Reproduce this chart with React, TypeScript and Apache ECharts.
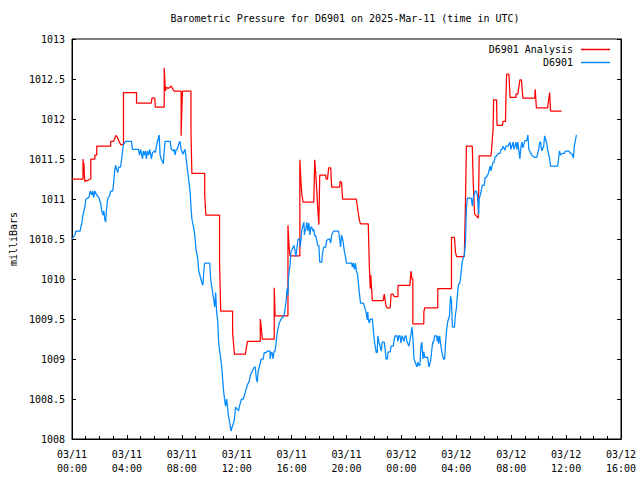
import React, { useEffect, useRef } from "react";
import * as echarts from "echarts";

// Time in minutes since 2025-03-11 00:00 UTC, pressure in millibars
const analysisMin = [
  0, 48, 48, 50, 52, 54, 56, 82, 82, 100, 100, 108, 108, 169, 169, 182, 191, 195, 212, 225,
  225, 282, 282, 347, 349, 362, 364, 403, 403, 407, 409, 412, 420, 433, 440, 446, 472, 477, 477, 481,
  483, 520, 520, 524, 580, 580, 585, 645, 645, 650, 702, 702, 710, 758, 762, 767, 823, 823, 827, 832,
  884, 884, 888, 944, 944, 949, 953, 996, 996, 1001, 1005, 1010, 1057, 1061, 1066, 1070, 1074, 1079, 1083, 1109,
  1111, 1117, 1122, 1131, 1135, 1170, 1172, 1178, 1183, 1243, 1250, 1256, 1261, 1295, 1300, 1304, 1306, 1313, 1360, 1365,
  1369, 1373, 1378, 1391, 1395, 1404, 1408, 1425, 1425, 1477, 1482, 1486, 1490, 1490, 1538, 1538, 1542, 1599, 1599, 1659,
  1659, 1672, 1676, 1681, 1715, 1720, 1724, 1750, 1754, 1760, 1776, 1780, 1832, 1841, 1843, 1856, 1858, 1882, 1884, 1895,
  1897, 1900, 1910, 1915, 1941, 1941, 1949, 1958, 1965, 1967, 1971, 2023, 2025, 2030, 2079, 2088, 2092, 2140,
];
const analysisMb = [
  1011.25, 1011.25, 1011.5, 1011.4, 1011.45, 1011.3, 1011.22, 1011.25, 1011.5, 1011.5, 1011.55, 1011.55, 1011.66, 1011.66, 1011.72, 1011.72, 1011.79, 1011.79, 1011.68, 1011.68,
  1012.33, 1012.33, 1012.2, 1012.2, 1012.26, 1012.26, 1012.15, 1012.15, 1012.64, 1012.4, 1012.35, 1012.4, 1012.38, 1012.41, 1012.38, 1012.35, 1012.35, 1012.34, 1011.79, 1012.2,
  1012.35, 1012.35, 1011.84, 1011.32, 1011.32, 1011.06, 1010.8, 1010.8, 1010.2, 1009.6, 1009.6, 1009.33, 1009.06, 1009.06, 1009.14, 1009.22, 1009.22, 1009.5, 1009.4, 1009.25,
  1009.25, 1009.89, 1009.54, 1009.54, 1010.67, 1010.4, 1010.29, 1010.29, 1011.49, 1011.2, 1011.05, 1010.96, 1010.96, 1011.49, 1011.3, 1011.1, 1010.9, 1010.68, 1011.3, 1011.3,
  1011.25, 1011.25, 1011.39, 1011.39, 1011.15, 1011.15, 1011.22, 1011.21, 1011.0, 1011.0, 1010.85, 1010.74, 1010.69, 1010.69, 1010.15, 1009.88, 1010.05, 1009.73, 1009.73, 1009.81,
  1009.73, 1009.66, 1009.64, 1009.64, 1009.81, 1009.81, 1009.78, 1009.78, 1009.92, 1009.92, 1010.1, 1010.0, 1010.0, 1009.44, 1009.44, 1009.59, 1009.64, 1009.64, 1009.88, 1009.88,
  1010.52, 1010.52, 1010.34, 1010.28, 1010.28, 1010.96, 1011.66, 1011.66, 1011.2, 1010.81, 1010.76, 1011.54, 1011.54, 1011.88, 1012.24, 1012.24, 1011.92, 1011.92, 1011.97, 1011.97,
  1012.27, 1012.56, 1012.56, 1012.27, 1012.27, 1012.31, 1012.31, 1012.49, 1012.49, 1012.4, 1012.26, 1012.26, 1012.37, 1012.14, 1012.14, 1012.33, 1012.1, 1012.1,
];

const obsMin = [
  0, 13, 17, 35, 43, 48, 56, 61, 74, 80, 87, 91, 95, 100, 108, 117, 125, 130, 135, 139,
  143, 147, 150, 156, 165, 169, 178, 182, 187, 191, 195, 200, 204, 212, 217, 221, 225, 234, 260, 264,
  290, 295, 300, 308, 312, 316, 321, 325, 330, 335, 340, 347, 352, 360, 364, 372, 381, 385, 390, 399,
  403, 407, 429, 434, 442, 446, 451, 455, 460, 468, 472, 477, 485, 490, 494, 503, 511, 516, 520, 524,
  533, 537, 542, 550, 554, 567, 572, 576, 580, 602, 606, 619, 624, 628, 632, 637, 641, 654, 663, 671,
  676, 684, 689, 695, 700, 706, 710, 715, 728, 732, 741, 749, 758, 767, 775, 780, 788, 797, 801, 806,
  810, 814, 819, 827, 836, 840, 849, 853, 866, 866, 871, 875, 879, 884, 888, 892, 897, 905, 914, 927,
  931, 937, 940, 944, 946, 949, 953, 957, 970, 975, 979, 988, 996, 998, 1001, 1005, 1014, 1016, 1018, 1022,
  1027, 1031, 1035, 1040, 1044, 1048, 1053, 1057, 1061, 1066, 1074, 1079, 1083, 1092, 1094, 1100, 1109, 1113, 1122, 1126,
  1131, 1135, 1144, 1165, 1170, 1174, 1178, 1183, 1187, 1191, 1196, 1200, 1222, 1226, 1230, 1235, 1239, 1243, 1248, 1252,
  1256, 1261, 1274, 1278, 1282, 1287, 1291, 1293, 1295, 1300, 1304, 1313, 1317, 1321, 1326, 1330, 1334, 1337, 1339, 1343,
  1347, 1352, 1356, 1365, 1369, 1373, 1378, 1382, 1391, 1395, 1404, 1408, 1412, 1421, 1425, 1429, 1434, 1438, 1443, 1451,
  1456, 1460, 1464, 1473, 1482, 1486, 1490, 1495, 1508, 1512, 1516, 1521, 1525, 1529, 1532, 1534, 1538, 1542, 1555, 1558,
  1560, 1568, 1573, 1577, 1581, 1585, 1594, 1597, 1599, 1603, 1607, 1611, 1616, 1620, 1625, 1629, 1633, 1637, 1642, 1646,
  1650, 1655, 1659, 1663, 1672, 1676, 1681, 1685, 1690, 1694, 1698, 1702, 1707, 1711, 1715, 1720, 1724, 1728, 1746, 1750,
  1754, 1763, 1767, 1772, 1778, 1780, 1789, 1793, 1802, 1806, 1811, 1819, 1828, 1832, 1836, 1841, 1845, 1850, 1854, 1863,
  1871, 1876, 1880, 1884, 1893, 1897, 1906, 1915, 1919, 1928, 1932, 1941, 1945, 1949, 1958, 1962, 1967, 1971, 1980, 1988,
  1993, 1997, 2010, 2023, 2032, 2040, 2045, 2049, 2053, 2062, 2066, 2075, 2079, 2088, 2092, 2123, 2127, 2131, 2136, 2144,
  2153, 2157, 2170, 2188, 2192, 2196, 2205,
];
const obsMb = [
  1010.5, 1010.55, 1010.6, 1010.6, 1010.7, 1010.8, 1010.9, 1011.0, 1011.02, 1011.1, 1011.05, 1011.1, 1011.02, 1011.1, 1011.05, 1011.02, 1010.95, 1010.85, 1010.8, 1010.85,
  1010.75, 1010.71, 1010.85, 1011.0, 1011.05, 1011.1, 1011.1, 1011.2, 1011.37, 1011.42, 1011.37, 1011.33, 1011.4, 1011.4, 1011.5, 1011.6, 1011.68, 1011.72, 1011.72, 1011.62,
  1011.62, 1011.55, 1011.62, 1011.5, 1011.6, 1011.55, 1011.6, 1011.5, 1011.6, 1011.55, 1011.62, 1011.5, 1011.58, 1011.6, 1011.58, 1011.7, 1011.8, 1011.55, 1011.5, 1011.44,
  1011.6, 1011.72, 1011.72, 1011.62, 1011.6, 1011.62, 1011.55, 1011.62, 1011.62, 1011.7, 1011.72, 1011.62, 1011.56, 1011.6, 1011.62, 1011.41, 1011.21, 1011.1, 1010.91, 1010.75,
  1010.62, 1010.54, 1010.37, 1010.25, 1010.1, 1009.96, 1009.92, 1010.1, 1010.2, 1010.2, 1010.0, 1009.75, 1009.65, 1009.83, 1009.59, 1009.48, 1009.21, 1008.91, 1008.59, 1008.41,
  1008.5, 1008.29, 1008.21, 1008.1, 1008.15, 1008.2, 1008.25, 1008.4, 1008.35, 1008.41, 1008.5, 1008.5, 1008.59, 1008.68, 1008.72, 1008.8, 1008.85, 1008.9, 1008.9, 1008.75,
  1008.71, 1008.85, 1008.9, 1009.0, 1009.0, 1009.08, 1009.08, 1009.1, 1009.1, 1009.0, 1009.08, 1009.08, 1009.0, 1009.1, 1009.1, 1009.2, 1009.33, 1009.44, 1009.5, 1009.54,
  1009.62, 1009.75, 1009.88, 1009.8, 1010.0, 1010.1, 1010.17, 1010.34, 1010.42, 1010.35, 1010.28, 1010.5, 1010.5, 1010.4, 1010.5, 1010.62, 1010.71, 1010.55, 1010.6, 1010.62,
  1010.71, 1010.6, 1010.7, 1010.55, 1010.65, 1010.65, 1010.6, 1010.62, 1010.54, 1010.54, 1010.42, 1010.42, 1010.21, 1010.21, 1010.3, 1010.4, 1010.4, 1010.48, 1010.5, 1010.5,
  1010.45, 1010.55, 1010.6, 1010.6, 1010.5, 1010.4, 1010.55, 1010.5, 1010.42, 1010.34, 1010.27, 1010.2, 1010.2, 1010.15, 1010.2, 1010.12, 1010.2, 1010.1, 1010.06, 1009.95,
  1009.83, 1009.7, 1009.7, 1009.66, 1009.62, 1009.56, 1009.49, 1009.59, 1009.5, 1009.45, 1009.5, 1009.5, 1009.37, 1009.25, 1009.15, 1009.08, 1009.08, 1009.29, 1009.25, 1009.2,
  1009.16, 1009.1, 1009.21, 1009.21, 1009.12, 1009.0, 1009.0, 1009.09, 1009.09, 1009.16, 1009.16, 1009.23, 1009.29, 1009.29, 1009.22, 1009.29, 1009.29, 1009.2, 1009.29, 1009.22,
  1009.29, 1009.29, 1009.22, 1009.16, 1009.31, 1009.4, 1009.28, 1009.0, 1008.9, 1008.96, 1008.92, 1008.92, 1009.15, 1009.21, 1009.1, 1009.0, 1009.09, 1009.02, 1009.02, 1008.95,
  1008.9, 1008.98, 1009.12, 1009.21, 1009.21, 1009.29, 1009.29, 1009.22, 1009.29, 1009.19, 1009.29, 1009.2, 1009.1, 1009.04, 1009.0, 1009.0, 1009.2, 1009.34, 1009.46, 1009.5,
  1009.54, 1009.79, 1009.72, 1009.4, 1009.4, 1009.55, 1009.65, 1009.81, 1009.94, 1009.94, 1010.0, 1010.12, 1010.23, 1010.27, 1010.29, 1010.46, 1010.88, 1011.01, 1011.01, 1010.91,
  1011.01, 1011.1, 1011.1, 1011.05, 1010.81, 1011.0, 1011.1, 1011.17, 1011.17, 1011.27, 1011.27, 1011.31, 1011.41, 1011.35, 1011.41, 1011.46, 1011.46, 1011.53, 1011.53, 1011.57,
  1011.57, 1011.62, 1011.62, 1011.66, 1011.61, 1011.66, 1011.66, 1011.71, 1011.62, 1011.71, 1011.62, 1011.71, 1011.62, 1011.71, 1011.5, 1011.64, 1011.71, 1011.64, 1011.73, 1011.73,
  1011.8, 1011.62, 1011.55, 1011.52, 1011.52, 1011.62, 1011.71, 1011.71, 1011.6, 1011.66, 1011.79, 1011.7, 1011.62, 1011.5, 1011.41, 1011.41, 1011.5, 1011.6, 1011.55, 1011.57,
  1011.57, 1011.6, 1011.6, 1011.55, 1011.51, 1011.66, 1011.8,
];

const seriesNames = ["D6901 Analysis", "D6901"];
const seriesColors = ["#ff0000", "#0088ff"];
const titleText = "Barometric Pressure for D6901 on 2025-Mar-11 (time in UTC)";
const yAxisName = "milliBars";
const xMin = 0;
const xMax = 2400;
const xStep = 240;
const yMin = 1008;
const yMax = 1013;
const yStep = 0.5;

const FONT = "DejaVu Sans Mono";

function zip(t: number[], v: number[]): [number, number][] {
  const out: [number, number][] = [];
  for (let i = 0; i < Math.min(t.length, v.length); i++) out.push([t[i], v[i]]);
  return out;
}

function pad(n: number) {
  return n < 10 ? "0" + n : String(n);
}

export default function App() {
  const ref = useRef<HTMLDivElement>(null);
  useEffect(() => {
    if (!ref.current) return;
    const chart = echarts.init(ref.current, undefined, { renderer: "svg" });
    const textStyle = { fontFamily: FONT, fontSize: 10, color: "#000" };
    chart.setOption({
      animation: false,
      backgroundColor: "#fff",
      title: {
        text: titleText,
        left: 345,
        top: 13,
        padding: 0,
        textAlign: "center",
        textStyle: { ...textStyle, fontWeight: "normal" },
      },
      legend: [
        {
          data: [seriesNames[0]],
          right: 30,
          top: 43.5,
          padding: 0,
          align: "right",
          icon: "rect",
          itemWidth: 29,
          itemHeight: 1.5,
          textStyle: { ...textStyle, lineHeight: 12, padding: [0, 3, 0, 0] },
          selectedMode: false,
        },
        {
          data: [seriesNames[1]],
          right: 30,
          top: 56.5,
          padding: 0,
          align: "right",
          icon: "rect",
          itemWidth: 29,
          itemHeight: 1.5,
          textStyle: { ...textStyle, lineHeight: 12, padding: [0, 3, 0, 0] },
          selectedMode: false,
        },
      ],
      grid: {
        left: 70,
        top: 39,
        width: 551,
        height: 400,
        show: true,
        borderColor: "#000",
        borderWidth: 1,
        backgroundColor: "transparent",
      },
      xAxis: {
        type: "value",
        min: xMin,
        max: xMax,
        interval: xStep,
        axisLine: { show: true, lineStyle: { color: "#000", width: 1 } },
        axisTick: { show: true, inside: true, length: 4, lineStyle: { color: "#000" } },
        minorTick: { show: true, splitNumber: 4, length: 3, lineStyle: { color: "#000" } },
        splitLine: { show: false },
        axisLabel: {
          ...textStyle,
          margin: 8,
          lineHeight: 14,
          formatter: (v: number) => {
            const day = 11 + Math.floor(v / 1440);
            const h = Math.round((v % 1440) / 60);
            return `03/${pad(day)}\n${pad(h)}:00`;
          },
        },
      },
      yAxis: [
        {
          type: "value",
          min: yMin,
          max: yMax,
          interval: yStep,
          name: yAxisName,
          nameLocation: "middle",
          nameRotate: 90,
          nameGap: 53,
          nameTextStyle: textStyle,
          axisLine: { show: true, lineStyle: { color: "#000", width: 1 } },
          axisTick: { show: true, inside: true, length: 4, lineStyle: { color: "#000" } },
          splitLine: { show: false },
          axisLabel: { ...textStyle, margin: 7, formatter: (v: number) => String(v) },
        },
        {
          type: "value",
          position: "right",
          min: yMin,
          max: yMax,
          interval: yStep,
          axisLine: { show: true, lineStyle: { color: "#000", width: 1 } },
          axisTick: { show: true, inside: true, length: 4, lineStyle: { color: "#000" } },
          splitLine: { show: false },
          axisLabel: { show: false },
        },
      ],
      series: [
        {
          name: seriesNames[0],
          type: "line",
          data: zip(analysisMin, analysisMb),
          showSymbol: false,
          symbol: "none",
          color: seriesColors[0],
          lineStyle: { color: seriesColors[0], width: 1.25 },
          z: 2,
        },
        {
          name: seriesNames[1],
          type: "line",
          data: zip(obsMin, obsMb),
          showSymbol: false,
          symbol: "none",
          color: seriesColors[1],
          lineStyle: { color: seriesColors[1], width: 1.25 },
          z: 3,
        },
      ],
    });
    return () => chart.dispose();
  }, []);
  return (
    <div
      ref={ref}
      style={{ position: "absolute", left: 0, top: 0, width: 640, height: 480, background: "#fff" }}
    />
  );
}
